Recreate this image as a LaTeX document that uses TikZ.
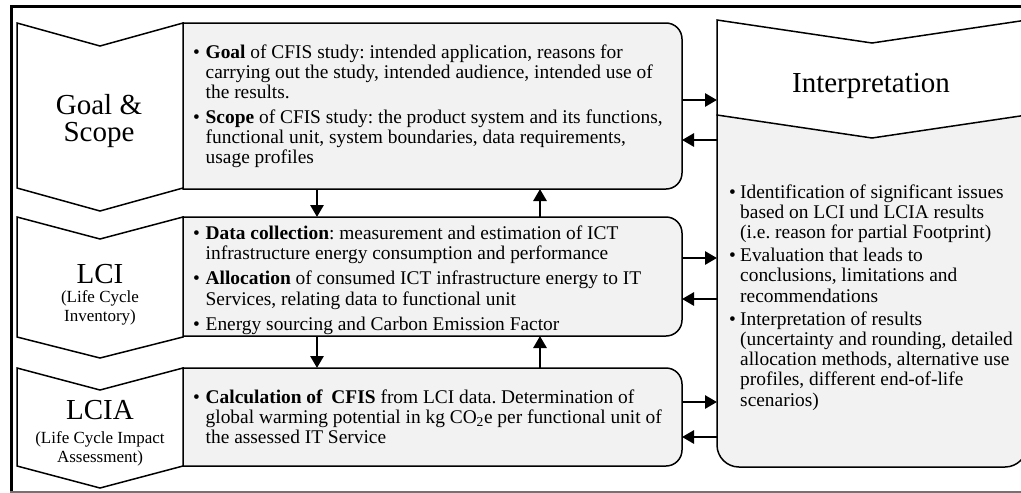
\documentclass[tikz,border=0pt]{standalone}
\usepackage{fontspec}
\setmainfont{Liberation Serif}
\usetikzlibrary{arrows.meta}
\definecolor{boxgray}{HTML}{F2F2F2}
% bullet item: bullet box width, text width, lines separated by \\
\newcommand{\bitem}[3]{\noindent\makebox[#1][l]{\textbullet}\parbox[t]{#2}{\strut #3\strut}\par}
\begin{document}
\frenchspacing
\begin{tikzpicture}[x=1pt,y=1pt,
  shapeline/.style={draw=black, line width=1.5pt, line join=miter},
  chev/.style={shapeline, fill=white},
  gbox/.style={shapeline, fill=boxgray},
  area/.style={draw=none, inner sep=0pt, outer sep=0pt, rectangle},
  titletext/.style={inner sep=0pt, anchor=base, font=\fontsize{29pt}{29pt}\selectfont},
  subtext/.style={inner sep=0pt, anchor=base, font=\fontsize{17pt}{17pt}\selectfont},
  bodytext/.style={inner sep=0pt, anchor=north west, font=\fontsize{19.4pt}{19.4pt}\selectfont},
  itext/.style={inner sep=0pt, anchor=north west, font=\fontsize{19.4pt}{20.3pt}\selectfont},
  arr/.style={line width=2.8pt, -{Triangle[length=12pt,width=13pt]}},
  frameline/.style={line width=3pt, draw=black}]

\useasboundingbox (0,0) rectangle (1021,-493);
\clip (0,0) rectangle (1021,-493);
\fill[white] (0,0) rectangle (1021,-493);

% frame
\draw[frameline] (10,-6) -- (1021,-6);
\draw[frameline] (11.5,-5) -- (11.5,-493);
\draw[line width=1.5pt, draw=black!55] (10,-491.8) -- (1021,-491.8);

% gray boxes
\filldraw[gbox] (183,-189) -- (183,-23) -- (666,-23) arc[start angle=90,end angle=0,radius=16] -- (682,-173) arc[start angle=0,end angle=-90,radius=16] -- cycle;
\filldraw[gbox] (183,-336) -- (183,-217) -- (666,-217) arc[start angle=90,end angle=0,radius=16] -- (682,-320) arc[start angle=0,end angle=-90,radius=16] -- cycle;
\filldraw[gbox] (183,-466) -- (183,-368) -- (666,-368) arc[start angle=90,end angle=0,radius=16] -- (682,-450) arc[start angle=0,end angle=-90,radius=16] -- cycle;
\filldraw[gbox] (717,-115) -- (717,-445) arc[start angle=180,end angle=270,radius=22] -- (1005,-467) arc[start angle=270,end angle=360,radius=22] -- (1027,-115) -- cycle;

% chevrons
\filldraw[chev] (17,-23) -- (100,-46) -- (183,-23) -- (183,-188) -- (100,-211) -- (17,-188) -- cycle;
\filldraw[chev] (17,-217) -- (100,-239) -- (183,-217) -- (183,-337) -- (100,-358) -- (17,-337) -- cycle;
\filldraw[chev] (17,-368) -- (100,-390) -- (183,-368) -- (183,-466) -- (100,-488) -- (17,-466) -- cycle;
\filldraw[chev] (717,-20) -- (872,-43) -- (1027,-20) -- (1027,-115) -- (872,-138) -- (717,-115) -- cycle;

% box areas (for connectors)
\node[area, minimum width=499pt, minimum height=166pt] (goalbox) at (432.5,-106) {};
\node[area, minimum width=499pt, minimum height=119pt] (lcibox) at (432.5,-276.5) {};
\node[area, minimum width=499pt, minimum height=98pt] (lciabox) at (432.5,-417) {};
\node[area, minimum width=310pt, minimum height=447pt] (interpbox) at (872,-243.5) {};

% titles
\node[titletext] (goalA) at (99,-114) {Goal \&};
\node[titletext] (goalB) at (99,-141) {Scope};
\node[titletext] (lciT) at (100,-283) {LCI};
\node[subtext] (lciS1) at (100,-302) {(Life Cycle};
\node[subtext] (lciS2) at (100,-321) {Inventory)};
\node[titletext] (lciaT) at (100,-419) {LCIA};
\node[subtext] (lciaS1) at (100,-443) {(Life Cycle Impact};
\node[subtext] (lciaS2) at (100,-462) {Assessment)};
\node[titletext] (interpT) at (871,-92) {Interpretation};

% body texts
\node[bodytext] (goaltxt) at (193,-44.5) {\parbox[t]{490pt}{\setlength{\parskip}{5.5pt}\setlength{\lineskip}{0pt}%
\bitem{12.5pt}{470pt}{\textbf{Goal} of CFIS study: intended application, reasons for\\carrying out the study, intended audience, intended use of\\the results.}%
\bitem{12.5pt}{470pt}{\textbf{Scope} of CFIS study: the product system and its functions,\\functional unit, system boundaries, data requirements,\\usage profiles}}};

\node[bodytext] (lcitxt) at (193,-225.5) {\parbox[t]{490pt}{\setlength{\parskip}{5.5pt}\setlength{\lineskip}{0pt}%
\bitem{12.5pt}{470pt}{\textbf{Data collection}: measurement and estimation of ICT\\infrastructure energy consumption and performance}%
\bitem{12.5pt}{470pt}{\textbf{Allocation} of consumed ICT infrastructure energy to IT\\Services, relating data to functional unit}%
\bitem{12.5pt}{470pt}{Energy sourcing and Carbon Emission Factor}}};

\node[bodytext] (lciatxt) at (193,-389.5) {\parbox[t]{490pt}{\setlength{\lineskip}{0pt}%
\bitem{12.5pt}{470pt}{\textbf{Calculation of\hspace{4pt} CFIS} from LCI data. Determination of\\global warming potential in kg CO\textsubscript{2}e per functional unit of\\the assessed IT Service}}};

\node[itext] (interptxt) at (729,-183.8) {\parbox[t]{300pt}{\setlength{\parskip}{2.5pt}\setlength{\lineskip}{0pt}%
\bitem{11pt}{285pt}{Identification of significant issues\\based on LCI und LCIA results\\(i.e. reason for partial Footprint)}%
\bitem{11pt}{285pt}{Evaluation that leads to\\conclusions, limitations and\\recommendations}%
\bitem{11pt}{285pt}{Interpretation of results\\(uncertainty and rounding, detailed\\allocation methods, alternative use\\profiles, different end-of-life\\scenarios)}}};

% connector guides
\coordinate (xd) at (317,0);
\coordinate (xu) at (540,0);
\coordinate (y1) at (0,-100);
\coordinate (y2) at (0,-140);
\coordinate (y3) at (0,-258);
\coordinate (y4) at (0,-299);
\coordinate (y5) at (0,-402);
\coordinate (y6) at (0,-437);

% vertical connectors
\draw[arr] (goalbox.south -| xd) -- (lcibox.north -| xd);
\draw[arr] (lcibox.north -| xu) -- (goalbox.south -| xu);
\draw[arr] (lcibox.south -| xd) -- (lciabox.north -| xd);
\draw[arr] (lciabox.north -| xu) -- (lcibox.south -| xu);

% horizontal connectors
\draw[arr] (goalbox.east |- y1) -- (interpbox.west |- y1);
\draw[arr] (interpbox.west |- y2) -- (goalbox.east |- y2);
\draw[arr] (lcibox.east |- y3) -- (interpbox.west |- y3);
\draw[arr] (interpbox.west |- y4) -- (lcibox.east |- y4);
\draw[arr] (lciabox.east |- y5) -- (interpbox.west |- y5);
\draw[arr] (interpbox.west |- y6) -- (lciabox.east |- y6);
\end{tikzpicture}
\end{document}
